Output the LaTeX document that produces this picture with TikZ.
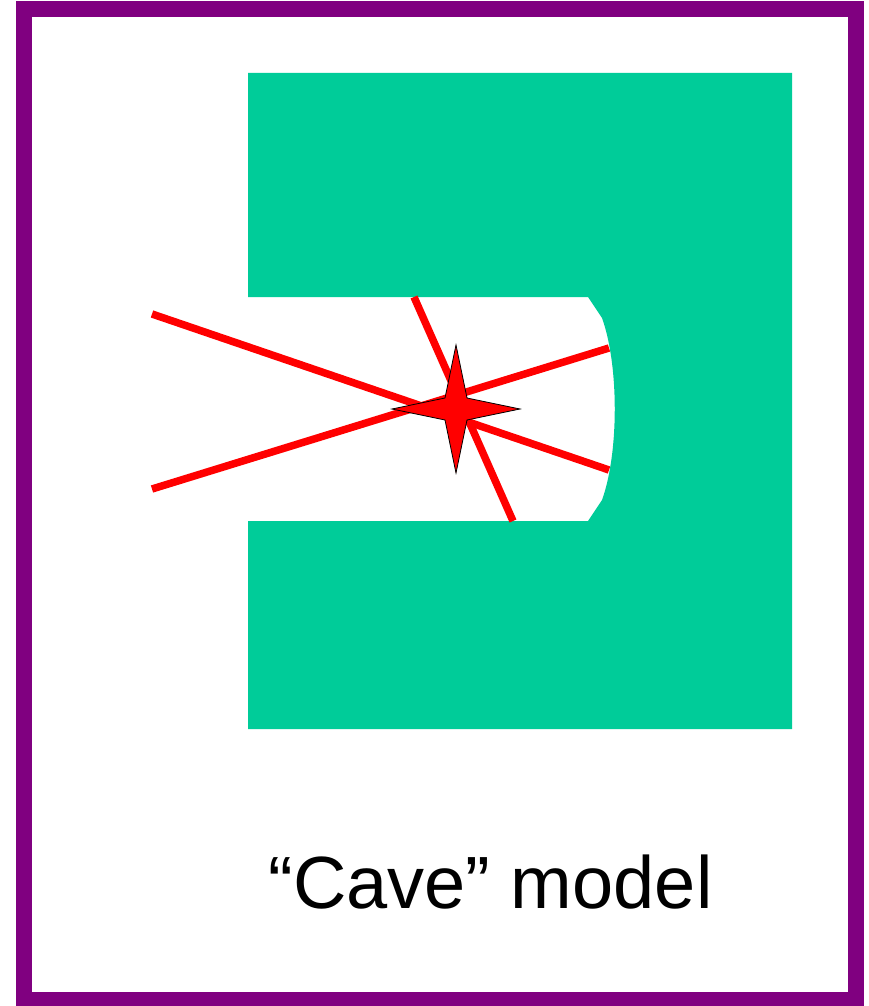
\documentclass[tikz,border=0pt]{standalone}
\usepackage{fontspec}
\setmainfont{Liberation Sans}
\definecolor{cavegreen}{HTML}{00CC99}
\definecolor{frame}{HTML}{800080}
\definecolor{ray}{HTML}{FF0000}
\begin{document}
\begin{tikzpicture}[x=1pt,y=-1pt,
  raystyle/.style={draw=ray,line width=7.5pt},
  framestyle/.style={draw=frame,line width=16pt}]
\useasboundingbox (0,0) rectangle (869,1006);
\fill[white] (0,0) rectangle (869,1006);
\begin{scope}
\clip (0,0) rectangle (869,1006);
\draw[framestyle] (24,9.5) rectangle (856,1000);
\end{scope}
% cave rock
\fill[cavegreen] (248,73) -- (792,73) -- (792,729) -- (248,729) -- (248,521)
  -- (588,521) -- (602,500) .. controls (619,453) and (619,365) .. (602,318)
  -- (588,297) -- (248,297) -- cycle;
% rays
\coordinate (l1a) at (152,314); \coordinate (l1b) at (609,470);
\coordinate (l2a) at (152,489); \coordinate (l2b) at (609,348);
\coordinate (l3a) at (414,297); \coordinate (l3b) at (513,521);
\draw[raystyle] (l1a) -- (l1b);
\draw[raystyle] (l2a) -- (l2b);
\draw[raystyle] (l3a) -- (l3b);
% star
\coordinate (s) at (456,409);
\draw[fill=ray,draw=black,line width=0.8pt] ([shift={(0,-64)}]s) -- ([shift={(11,-11)}]s)
  -- ([shift={(64,0)}]s) -- ([shift={(11,11)}]s) -- ([shift={(0,64)}]s)
  -- ([shift={(-11,11)}]s) -- ([shift={(-64,0)}]s) -- ([shift={(-11,-11)}]s) -- cycle;
\node[anchor=base,font=\fontsize{74}{84}\selectfont,inner sep=0pt] (label) at (490.5,908) {“Cave” model};
\end{tikzpicture}
\end{document}
